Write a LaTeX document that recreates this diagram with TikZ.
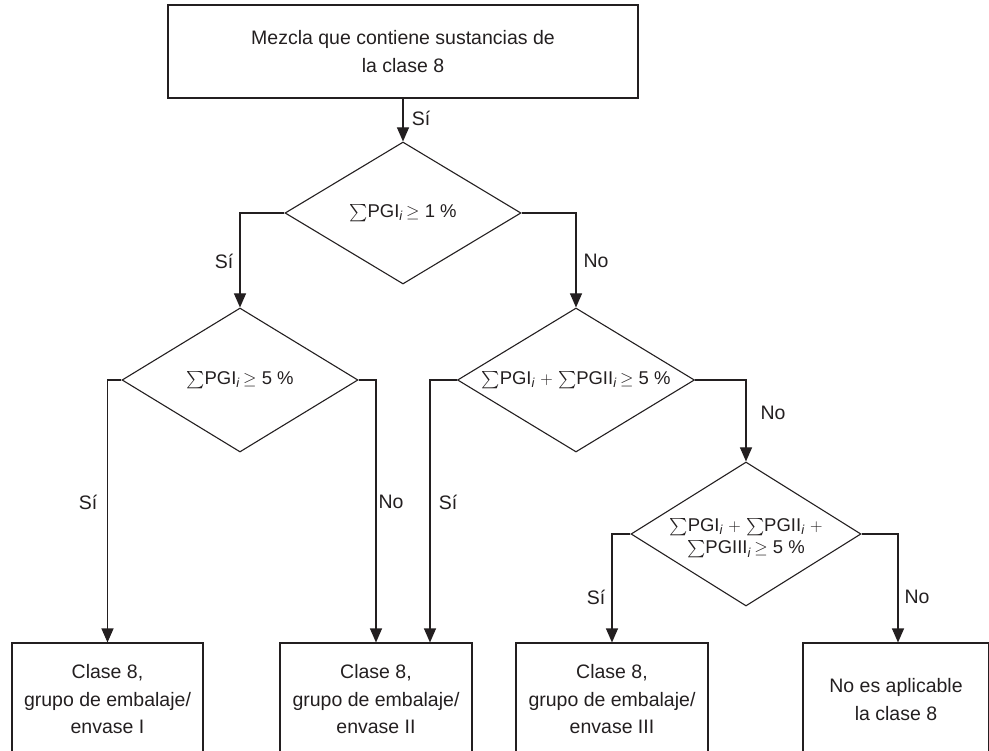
\documentclass[tikz,border=0pt]{standalone}
\usepackage{amsmath}
\usepackage{fontspec}
\setmainfont{Liberation Sans}
\usetikzlibrary{shapes.geometric,arrows.meta}
\definecolor{ink}{HTML}{231F20}
\newcommand{\sub}{\textsubscript{\textit{i}}}
\newcommand{\sm}{$\sum$}
\begin{document}
\begin{tikzpicture}[x=1pt,y=-1pt,
  ln/.style={draw=ink,line width=1.1pt},
  arr/.style={ln,-{Triangle[length=14pt,width=12pt]}},
  box/.style={draw=ink,line width=1.1pt,rectangle,align=center,inner sep=0pt,
    font=\fontsize{19.5}{27.5}\selectfont,text=ink},
  dia/.style={draw=ink,line width=1.1pt,diamond,inner sep=0pt},
  txt/.style={font=\fontsize{18.5}{22.5}\selectfont,text=ink,align=center,inner sep=0pt},
  lbl/.style={font=\fontsize{19.5}{23}\selectfont,text=ink,inner sep=0pt},
]
\useasboundingbox (0,0) rectangle (989,751);
\clip (0,0) rectangle (989,751);

% top box
\node[box,minimum width=470,minimum height=93] (top) at (403,51.5)
  {Mezcla que contiene sustancias de\\la clase 8};

% diamonds
\node[dia,minimum width=236,minimum height=142] (d1) at (403,213) {};
\node[txt] (t1) at (d1) {\sm PGI\sub\,$\geq$ 1 \%};
\node[dia,minimum width=236,minimum height=144] (d2) at (240,380) {};
\node[txt] (t2) at (d2) {\sm PGI\sub\,$\geq$ 5 \%};
\node[dia,minimum width=237,minimum height=144] (d3) at (576,380) {};
\node[txt] (t3) at (d3) {\sm PGI\sub{} $+$ \sm PGII\sub\,$\geq$ 5 \%};
\node[dia,minimum width=230,minimum height=144] (d4) at (746,534) {};
\node[txt] (t4) at (746,538) {\sm PGI\sub{} $+$ \sm PGII\sub{} $+$\\\sm PGIII\sub\,$\geq$ 5 \%};

% bottom boxes
\node[box,minimum width=191,minimum height=113] (b1) at (107.5,699.5)
  {Clase 8,\\grupo de embalaje/\\envase I};
\node[box,minimum width=192,minimum height=113] (b2) at (376,699.5)
  {Clase 8,\\grupo de embalaje/\\envase II};
\node[box,minimum width=192,minimum height=113] (b3) at (612,699.5)
  {Clase 8,\\grupo de embalaje/\\envase III};
\node[box,minimum width=186,minimum height=113] (b4) at (896,699.5)
  {No es aplicable\\la clase 8};

% connectors
\draw[arr] (top.south) -- (d1.north);
\draw[arr] (d1.west) -| (d2.north);
\draw[arr] (d1.east) -| (d3.north);
\draw[arr] (d2.west) -| (b1.north);
\draw[arr] (d2.east) -| (b2.north);
\draw[arr] (d3.west) -| ([xshift=54pt]b2.north);
\draw[arr] (d3.east) -| (d4.north);
\draw[arr] (d4.west) -| (b3.north);
\draw[arr] (d4.east) -| ([xshift=2pt]b4.north);

% labels
\node[lbl] (l0) at (421,118) {Sí};
\node[lbl] (l1) at (224,261) {Sí};
\node[lbl] (l2) at (596,261) {No};
\node[lbl] (l3) at (88,502) {Sí};
\node[lbl] (l4) at (391,502) {No};
\node[lbl] (l5) at (448,502) {Sí};
\node[lbl] (l6) at (773,413) {No};
\node[lbl] (l7) at (596,597) {Sí};
\node[lbl] (l8) at (917,597) {No};
\end{tikzpicture}
\end{document}
